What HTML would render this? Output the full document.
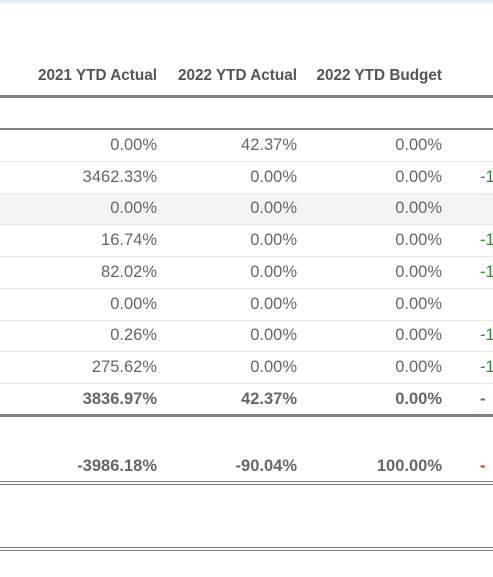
<!DOCTYPE html>
<html><head><meta charset="utf-8"><style>
body{margin:0;width:493px;height:577px;overflow:hidden;background:#fff;font-family:"Liberation Sans",sans-serif;position:relative}
.a{position:absolute}
.c{position:absolute;text-align:right;font-size:16.5px;color:#666;line-height:20px;white-space:nowrap}
.v{position:absolute;left:480px;font-size:16.5px;line-height:20px;white-space:nowrap}
.h{font-weight:bold;font-size:15.3px;color:#555}
.b{font-weight:bold}
.g{color:#2e8b2e}.r{color:#c0392b}
.ln{position:absolute;left:0;width:493px}
</style></head><body>
<div class="a" style="left:0;top:0;width:493px;height:3px;background:#e6eef5"></div>
<div id="t"></div>
<script>
const headers=["2021 YTD Actual","2022 YTD Actual","2022 YTD Budget"];
const col2021=["0.00%","3462.33%","0.00%","16.74%","82.02%","0.00%","0.26%","275.62%"];
const col2022=["42.37%","0.00%","0.00%","0.00%","0.00%","0.00%","0.00%","0.00%"];
const colBud=["0.00%","0.00%","0.00%","0.00%","0.00%","0.00%","0.00%","0.00%"];
const varCol=["","-1","","-1","-1","","-1","-1"];
const totals=["3836.97%","42.37%","0.00%","-"];
const net=["-3986.18%","-90.04%","100.00%","-"];
const t=document.getElementById('t');
const rights=[157,297,442];
function add(html,style,name){const d=document.createElement('div');d.innerHTML=html;d.style.cssText=style;


t.appendChild(d);return d;}
function cell(txt,right,y,cls,name){const d=add(txt,'right:'+(493-right)+'px;top:'+(y-10)+'px',name);d.className='c '+cls;}
function vcell(txt,y,cls,name){const d=add(txt,'top:'+(y-10)+'px',name);d.className='v '+cls;}
headers.forEach((h,i)=>cell(h,rights[i],76,'h','column-header'));
add('','top:95px;height:3px;background:#808080','header-rule').className='ln';
add('','top:128px;height:2px;background:#808080','section-rule').className='ln';
add('','top:194px;height:31px;background:#f4f4f4','shaded-row').className='ln';
const y0=145,rh=31.7;
for(let i=0;i<col2021.length;i++){
 const y=y0+i*rh;
 cell(col2021[i],rights[0],y,'','value-2021');
 cell(col2022[i],rights[1],y,'','value-2022');
 cell(colBud[i],rights[2],y,'','value-budget');
 if(varCol[i])vcell(varCol[i],y,'g','variance-value');
 add('','top:'+Math.round(y+16)+'px;height:1px;background:#e8e8e8','row-divider').className='ln';
}
const yt=y0+8*rh;
cell(totals[0],rights[0],yt,'b','total-2021');
cell(totals[1],rights[1],yt,'b','total-2022');
cell(totals[2],rights[2],yt,'b','total-budget');
vcell(totals[3],yt,'b g','total-variance');
add('','top:414px;height:3px;background:#808080','total-rule').className='ln';
cell(net[0],rights[0],466,'b','net-2021');
cell(net[1],rights[1],466,'b','net-2022');
cell(net[2],rights[2],466,'b','net-budget');
vcell(net[3],466,'b r','net-variance');
add('','top:481px;height:4px;border-top:1px solid #808080;border-bottom:1px solid #808080;box-sizing:border-box','net-double-rule').className='ln';
add('','top:547px;height:4px;border-top:1px solid #808080;border-bottom:1px solid #808080;box-sizing:border-box','bottom-double-rule').className='ln';
</script>
</body></html>
